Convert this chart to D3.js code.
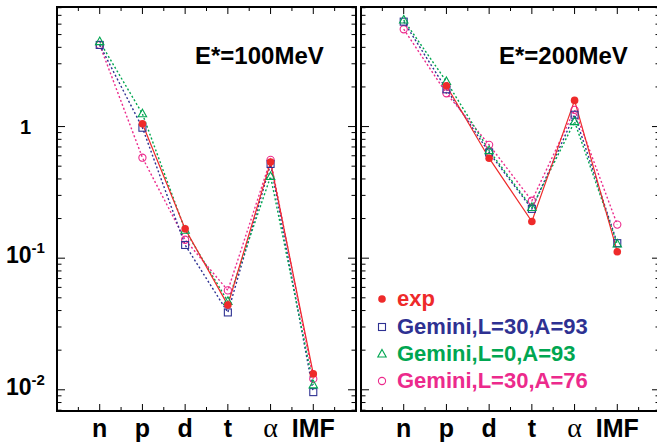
<!DOCTYPE html>
<html>
<head>
<meta charset="utf-8">
<script src="https://cdn.jsdelivr.net/npm/d3@7"></script>
<style>
  html, body { margin: 0; padding: 0; background: #fff; }
  svg { display: block; }
  text { font-family: "Liberation Sans", Arial, Helvetica, sans-serif; font-weight: bold; }
</style>
</head>
<body>
<svg id="chart" width="657" height="445"></svg>
<script>
// Particle species along the x axis
const categories = ["n", "p", "d", "t", "α", "IMF"];

// Yields at E* = 100 MeV (null = not measured)
const exp100   = [null, 1.05, 0.167, 0.044, 0.537, 0.0132];
const gL30A93_100 = [4.17, 0.98, 0.126, 0.0387, 0.52, 0.0096];
const gL0A93_100  = [4.42, 1.25, 0.163, 0.0469, 0.417, 0.0109];
const gL30A76_100 = [4.17, 0.58, 0.138, 0.0569, 0.558, 0.0121];

// Yields at E* = 200 MeV
const exp200   = [null, 2.04, 0.575, 0.19, 1.58, 0.112];
const gL30A93_200 = [6.27, 1.92, 0.635, 0.237, 1.23, 0.13];
const gL0A93_200  = [6.46, 2.2, 0.657, 0.243, 1.09, 0.128];
const gL30A76_200 = [5.49, 1.79, 0.726, 0.273, 1.34, 0.18];

const panelTitles = ["E*=100MeV", "E*=200MeV"];
const legendLabels = ["exp", "Gemini,L=30,A=93", "Gemini,L=0,A=93", "Gemini,L=30,A=76"];
const yTickLabels = [{v: 1, base: "1", exp: ""}, {v: 0.1, base: "10", exp: "-1"}, {v: 0.01, base: "10", exp: "-2"}];

const colors = ["#ee2a2a", "#2e3192", "#00a651", "#ec2a8c"];
const markers = ["dot", "square", "triangle", "circle"];

const panels = [
  {title: panelTitles[0], series: [exp100, gL30A93_100, gL0A93_100, gL30A76_100], x0: 57, x1: 356, titleX: 195},
  {title: panelTitles[1], series: [exp200, gL30A93_200, gL0A93_200, gL30A76_200], x0: 361, x1: 660, titleX: 499}
];

const svg = d3.select("#chart");
const plotTop = 7, plotBottom = 411;
const y = d3.scaleLog().domain([0.0069, 8.1]).range([plotBottom, plotTop]);

// minor tick values across the decades in view
const yMinor = [];
[0.001, 0.01, 0.1, 1].forEach(d => { for (let k = 2; k <= 9; k++) { const v = d * k; if (v >= 0.0069 && v <= 8.1) yMinor.push(v); } });
const yMajor = [0.01, 0.1, 1];

function drawMarker(g, type, cx, cy, color) {
  if (type === "dot") {
    g.append("circle").attr("cx", cx).attr("cy", cy).attr("r", 3.8).attr("fill", color);
  } else if (type === "square") {
    g.append("rect").attr("x", cx - 3.5).attr("y", cy - 3.5).attr("width", 7).attr("height", 7)
      .attr("fill", "none").attr("stroke", color).attr("stroke-width", 1.1);
  } else if (type === "triangle") {
    g.append("path").attr("d", `M${cx},${cy - 4.6}L${cx + 4.2},${cy + 3}L${cx - 4.2},${cy + 3}Z`)
      .attr("fill", "none").attr("stroke", color).attr("stroke-width", 1.1);
  } else {
    g.append("circle").attr("cx", cx).attr("cy", cy).attr("r", 3.6)
      .attr("fill", "none").attr("stroke", color).attr("stroke-width", 1.1);
  }
}

panels.forEach((p, pi) => {
  const x = d3.scaleLinear().domain([0, 7]).range([p.x0, p.x1]);
  const g = svg.append("g");

  // ticks on all four sides, pointing inward
  const xMajor = d3.range(1, 7);
  const xMinor = d3.range(0.5, 7, 1);
  const tickG = g.append("g").attr("stroke", "#000").attr("stroke-width", 1);
  xMajor.forEach(v => {
    tickG.append("line").attr("x1", x(v)).attr("x2", x(v)).attr("y1", plotBottom).attr("y2", plotBottom - 7);
    tickG.append("line").attr("x1", x(v)).attr("x2", x(v)).attr("y1", plotTop).attr("y2", plotTop + 7);
  });
  xMinor.forEach(v => {
    tickG.append("line").attr("x1", x(v)).attr("x2", x(v)).attr("y1", plotBottom).attr("y2", plotBottom - 4);
    tickG.append("line").attr("x1", x(v)).attr("x2", x(v)).attr("y1", plotTop).attr("y2", plotTop + 4);
  });
  yMajor.forEach(v => {
    tickG.append("line").attr("x1", p.x0).attr("x2", p.x0 + 8).attr("y1", y(v)).attr("y2", y(v));
    tickG.append("line").attr("x1", p.x1).attr("x2", p.x1 - 8).attr("y1", y(v)).attr("y2", y(v));
  });
  yMinor.forEach(v => {
    tickG.append("line").attr("x1", p.x0).attr("x2", p.x0 + 4.5).attr("y1", y(v)).attr("y2", y(v));
    tickG.append("line").attr("x1", p.x1).attr("x2", p.x1 - 4.5).attr("y1", y(v)).attr("y2", y(v));
  });

  // frame
  g.append("rect").attr("x", p.x0).attr("y", plotTop).attr("width", p.x1 - p.x0).attr("height", plotBottom - plotTop)
    .attr("fill", "none").attr("stroke", "#000").attr("stroke-width", 2);

  // category labels
  categories.forEach((c, i) => {
    const t = g.append("text").attr("x", x(i + 1)).attr("y", 437).attr("text-anchor", "middle")
      .attr("font-size", 25).attr("fill", "#000").text(c);
    if (c === "α") t.style("font-family", "'Liberation Serif', serif").style("font-weight", "normal").attr("font-size", 28);
  });

  // panel title
  g.append("text").attr("x", p.titleX).attr("y", 64)
    .attr("font-size", 24).attr("fill", "#000").text(p.title);

  // connecting lines: simulation dotted, experiment solid
  const line = d3.line().defined(d => d.v != null).x(d => x(d.i + 1)).y(d => y(d.v));
  const order = [3, 1, 2, 0];
  order.forEach(si => {
    const data = p.series[si].map((v, i) => ({i, v}));
    g.append("path").datum(data).attr("d", line).attr("fill", "none")
      .attr("stroke", colors[si]).attr("stroke-width", si === 0 ? 1.2 : 1.4)
      .attr("stroke-dasharray", si === 0 ? null : "2,2.2");
  });
  order.forEach(si => {
    p.series[si].forEach((v, i) => {
      if (v != null) drawMarker(g, markers[si], x(i + 1), y(v), colors[si]);
    });
  });
});

// y tick labels on the left panel
yTickLabels.forEach(t => {
  const ty = y(t.v);
  if (!t.exp) {
    svg.append("text").attr("x", 31).attr("y", ty + 7).attr("text-anchor", "end")
      .attr("font-size", 20).text(t.base);
  } else {
    const txt = svg.append("text").attr("x", 6).attr("y", ty + 5).attr("font-size", 23);
    txt.append("tspan").text(t.base);
    txt.append("tspan").attr("dy", -10).attr("font-size", 15).text(t.exp);
  }
});

// legend in the right panel
const legend = svg.append("g");
const lx = 382, ly = [306, 334, 361, 388];
legendLabels.forEach((lab, i) => {
  drawMarker(legend, markers[i], lx, ly[i] - 7, colors[i]);
  legend.append("text").attr("x", 397).attr("y", ly[i]).attr("font-size", 22)
    .attr("fill", colors[i]).text(lab);
});
</script>
</body>
</html>
